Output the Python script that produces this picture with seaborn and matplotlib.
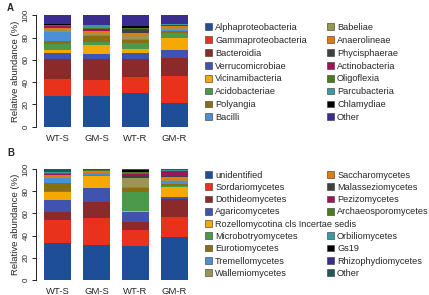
import matplotlib
matplotlib.use("Agg")
import matplotlib.pyplot as plt
from matplotlib.patches import Patch
import numpy as np
import pandas as pd
import seaborn as sns

# --- DATA ---
samples = ["WT-S", "GM-S", "WT-R", "GM-R"]

# panel A: bacterial classes (%)
bact_taxa = ["Alphaproteobacteria", "Gammaproteobacteria", "Bacteroidia", "Verrucomicrobiae",
             "Vicinamibacteria", "Acidobacteriae", "Polyangia", "Bacilli",
             "Babeliae", "Anaerolineae", "Phycisphaerae", "Actinobacteria",
             "Oligoflexia", "Parcubacteria", "Chlamydiae", "Other"]
bact_wt_s = [28, 15, 17.5, 5.5, 3, 5, 3, 8, 2, 1.5, 0.5, 1.5, 0.5, 0.5, 0.3, 8.2]
bact_gm_s = [27.5, 14.5, 18.5, 5, 7.5, 3, 5, 1, 2, 1.5, 0.5, 2, 1, 2, 0.2, 8.8]
bact_wt_r = [30.5, 14.5, 16, 5.5, 3, 5.5, 3, 1, 3.5, 2, 2, 1, 1, 0.5, 1.5, 9.5]
bact_gm_r = [21.5, 24, 16, 7.5, 11, 4, 2, 0.5, 2, 1.5, 0.5, 0.5, 0.5, 0.5, 0.2, 7.8]
bact_colors = ["#1f4e99", "#e8321c", "#8b2a2a", "#4053b0", "#f5a800", "#4b9a4b", "#8b6d12", "#4a90d9",
               "#9a9550", "#e07b12", "#404040", "#a0145a", "#4b7a1f", "#3a9aa0", "#000000", "#3a2d8f"]

# panel B: fungal classes (%)
fung_taxa = ["unidentified", "Sordariomycetes", "Dothideomycetes", "Agaricomycetes",
             "Rozellomycotina cls Incertae sedis", "Microbotryomycetes", "Eurotiomycetes",
             "Tremellomycetes", "Wallemiomycetes", "Saccharomycetes", "Malasseziomycetes",
             "Pezizomycetes", "Archaeosporomycetes", "Orbiliomycetes", "Gs19",
             "Rhizophydiomycetes", "Other"]
fung_wt_s = [33, 21, 7.5, 10.5, 7.5, 0.5, 7.5, 4, 1.5, 1.5, 0.5, 0.5, 0.5, 1, 0, 0.5, 2.5]
fung_gm_s = [31.5, 24.5, 14, 13, 11, 0.3, 0.5, 1.5, 0.5, 1, 0.3, 0.3, 0.3, 0.3, 0, 0.2, 0.8]
fung_wt_r = [31, 14, 7, 9.5, 1, 17, 3.5, 0.5, 8, 0.5, 3, 0.3, 2, 0.2, 2, 0, 0.5]
fung_gm_r = [39, 18, 16, 2, 9, 1, 1.5, 3, 1, 2.5, 1, 4, 0.5, 0.5, 0, 0, 1]
fung_colors = ["#1f4e99", "#e8321c", "#8b2a2a", "#4053b0", "#f5a800", "#4b9a4b", "#8b6d12", "#4a90d9",
               "#9a9550", "#e07b12", "#404040", "#a0145a", "#4b7a1f", "#3a9aa0", "#000000",
               "#3a2d8f", "#1f5a5a"]

sns.set_style("white")
plt.rcParams['font.family'] = ['Liberation Sans', 'DejaVu Sans']

fig = plt.figure(figsize=(4.29, 2.95), dpi=100)
W, H = 429, 295


def stacked(ax, taxa, cols, colors):
    df = pd.DataFrame(np.array(cols).T, index=taxa, columns=samples)
    cum = df.cumsum()
    # draw cumulative totals from the top down so lower layers cover the rest
    for i in range(len(taxa) - 1, -1, -1):
        sns.barplot(x=samples, y=cum.iloc[i].values, color=colors[i], width=0.69,
                    saturation=1, linewidth=0, ax=ax)
    ax.set_xlim(-0.55, 3.5)
    ax.set_ylim(0, 100)
    sns.despine(ax=ax, bottom=True)
    ax.spines['left'].set_bounds(0, 100)
    ax.spines['left'].set_linewidth(0.7)
    ax.spines['left'].set_color('#222222')
    ax.set_yticks([0, 20, 40, 60, 80, 100])
    ax.tick_params(axis='y', left=True, length=3, width=0.7, pad=1.5, labelsize=5.8, color='#222222')
    for t in ax.get_yticklabels():
        t.set_rotation(90)
        t.set_va('center')
    ax.tick_params(axis='x', length=0, pad=5, labelsize=6.8)
    ax.set_ylabel("Relative abundance (%)", fontsize=6.8, labelpad=2)
    ax.set_xlabel("")


def legend_col(labels, colors, x, y, spacing):
    handles = []
    for lab, c in zip(labels, colors):
        if c is None:
            handles.append(Patch(facecolor='none', edgecolor='none', label=lab))
        else:
            handles.append(Patch(facecolor=c, edgecolor='#333333', linewidth=0.4, label=lab))
    fig.legend(handles=handles, loc='upper left', bbox_to_anchor=(x / W, 1 - y / H),
               frameon=False, fontsize=6.6, handlelength=0.75, handleheight=0.75,
               handletextpad=0.35, labelspacing=spacing, borderpad=0, borderaxespad=0)


axA = fig.add_axes([36 / W, 1 - 126.7 / H, 158 / W, 111.4 / H])
stacked(axA, bact_taxa, [bact_wt_s, bact_gm_s, bact_wt_r, bact_gm_r], bact_colors)
axB = fig.add_axes([36 / W, 1 - 280 / H, 158 / W, 111 / H])
stacked(axB, fung_taxa, [fung_wt_s, fung_gm_s, fung_wt_r, fung_gm_r], fung_colors)

fig.text(7 / W, 1 - 8 / H, "A", fontsize=7, fontweight='bold', va='center')
fig.text(7 / W, 1 - 153 / H, "B", fontsize=7, fontweight='bold', va='center')

# legends A: 8 + 8
legend_col(bact_taxa[:8], bact_colors[:8], 205, 23, 0.42)
legend_col(bact_taxa[8:], bact_colors[8:], 327, 23, 0.42)
# legends B: 9 + 8 with a gap on the row of the long label
legend_col(fung_taxa[:9], fung_colors[:9], 205, 170.5, 0.36)
legend_col(fung_taxa[9:13] + [" "] + fung_taxa[13:], fung_colors[9:13] + [None] + fung_colors[13:],
           327, 170.5, 0.36)

fig.savefig("out.png", dpi=100)
